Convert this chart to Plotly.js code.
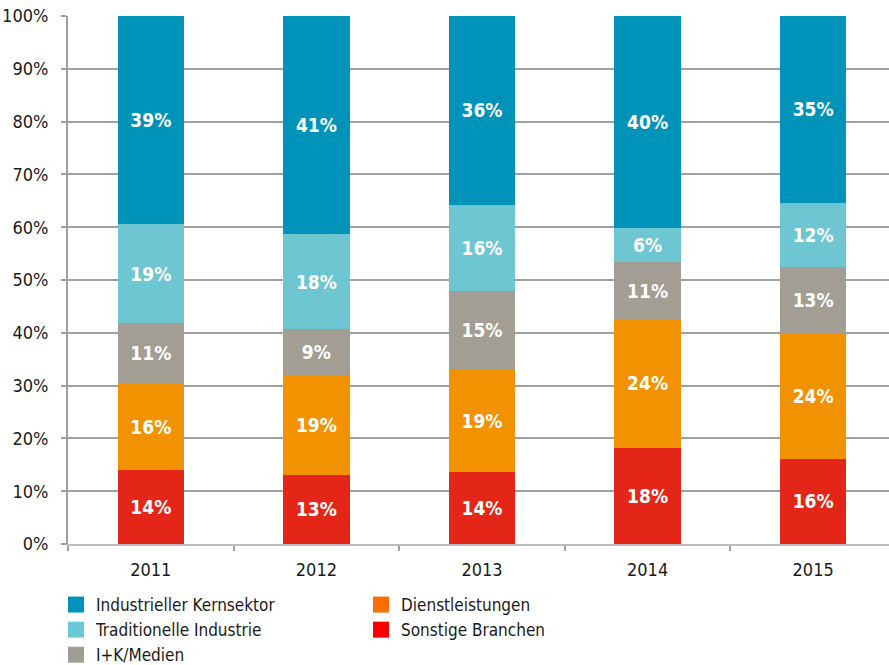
<!DOCTYPE html>
<html>
<head>
<meta charset="utf-8">
<script src="https://cdn.plot.ly/plotly-3.0.1.min.js"></script>
<style>html,body{margin:0;padding:0;background:#fff;}#chart{width:889px;height:665px;}</style>
</head>
<body>
<div id="chart"></div>
<script>
const years = ['2011', '2012', '2013', '2014', '2015'];
const seriesNames = ['Sonstige Branchen', 'Dienstleistungen', 'I+K/Medien', 'Traditionelle Industrie', 'Industrieller Kernsektor'];
const sonstige = [14.0, 13.1, 13.6, 18.2, 16.1];
const dienst = [16.4, 18.9, 19.4, 24.4, 23.9];
const ikMedien = [11.4, 8.7, 15.0, 10.8, 12.5];
const traditionell = [18.8, 18.0, 16.3, 6.4, 12.1];
const kern = [39.4, 41.3, 35.7, 40.2, 35.4];
const yTicks = [0, 10, 20, 30, 40, 50, 60, 70, 80, 90, 100];

const seriesValues = [sonstige, dienst, ikMedien, traditionell, kern];
const barColors = ['#E42618', '#F39200', '#A29E94', '#6EC6D3', '#0093BA'];
const legendColors = ['#FF0000', '#FF6D00', '#A09E94', '#6CC8D6', '#0093BA'];
const legendRanks = [4, 2, 5, 3, 1];

const FONT = '"DejaVu Sans Condensed", "Liberation Sans Narrow", sans-serif';

const traces = [];
seriesValues.forEach((vals, i) => {
  traces.push({
    type: 'bar',
    x: years,
    y: vals,
    name: seriesNames[i],
    showlegend: false,
    marker: {color: barColors[i], line: {width: 0}},
    text: vals.map(v => Math.round(v) + '%'),
    textposition: 'inside',
    insidetextanchor: 'middle',
    textangle: 0,
    constraintext: 'none',
    insidetextfont: {family: FONT, size: 19, color: '#ffffff', weight: 'bold'},
    hoverinfo: 'skip'
  });
});
seriesValues.forEach((vals, i) => {
  traces.push({
    type: 'scatter',
    mode: 'markers',
    x: [null],
    y: [null],
    name: seriesNames[i],
    legendrank: legendRanks[i],
    marker: {symbol: 'square', size: 16, color: legendColors[i], line: {width: 0}},
    hoverinfo: 'skip'
  });
});

const layout = {
  width: 889,
  height: 665,
  margin: {l: 68, r: 0, t: 16, b: 121, pad: 0},
  paper_bgcolor: '#ffffff',
  plot_bgcolor: '#ffffff',
  barmode: 'stack',
  bargap: 0.6,
  showlegend: true,
  font: {family: FONT, size: 18, color: '#1a1a1a'},
  xaxis: {
    type: 'category',
    range: [-0.5, 4.458],
    showgrid: false,
    showline: true,
    linecolor: '#BDBDBD',
    linewidth: 2,
    ticks: 'outside',
    tickson: 'boundaries',
    ticklen: 5,
    tickcolor: '#A0A0A0',
    tickwidth: 2,
    tickfont: {family: FONT, size: 18, color: '#1a1a1a'},
    ticklabelstandoff: 8,
    zeroline: false,
    fixedrange: true
  },
  yaxis: {
    range: [0, 100],
    tickmode: 'array',
    tickvals: yTicks,
    ticktext: yTicks.map(v => v + '%'),
    showgrid: true,
    gridcolor: '#A0A0A0',
    gridwidth: 2,
    showline: true,
    linecolor: '#A0A0A0',
    linewidth: 2,
    ticks: 'outside',
    ticklen: 5,
    tickcolor: '#A0A0A0',
    tickwidth: 2,
    tickfont: {family: FONT, size: 18, color: '#1a1a1a'},
    ticklabelstandoff: 9,
    zeroline: false,
    fixedrange: true
  },
  legend: {
    orientation: 'h',
    xref: 'container',
    yref: 'container',
    x: 56 / 889,
    xanchor: 'left',
    y: 1 - 587 / 665,
    yanchor: 'top',
    traceorder: 'normal',
    entrywidthmode: 'pixels',
    entrywidth: 260,
    itemsizing: 'trace',
    font: {family: FONT, size: 17, color: '#1a1a1a'},
    bgcolor: 'rgba(0,0,0,0)'
  },
  hovermode: false
};

Plotly.newPlot('chart', traces, layout, {staticPlot: true, displayModeBar: false});
</script>
</body>
</html>
